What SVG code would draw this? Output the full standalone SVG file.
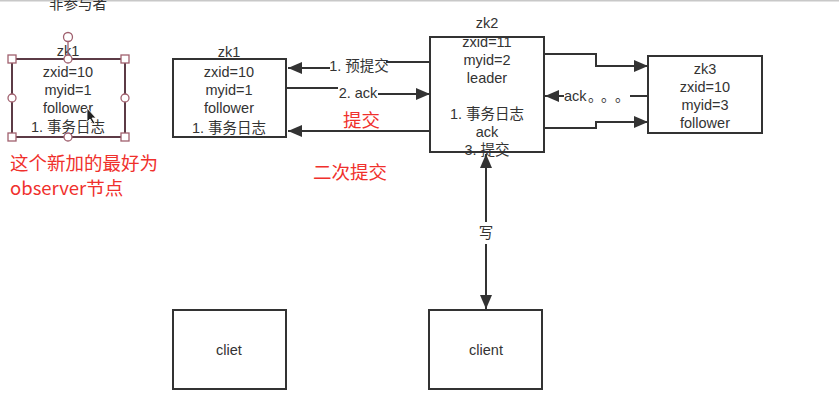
<svg xmlns="http://www.w3.org/2000/svg" width="839" height="405" viewBox="0 0 839 405">
<style>
.t{font-family:"Liberation Sans","Noto Sans CJK SC",sans-serif;font-size:14.5px;fill:#333;text-anchor:middle}
.r{font-family:"Noto Sans CJK SC",sans-serif;font-size:18.5px;fill:#f0302c}
.box{fill:#fff;stroke:#333;stroke-width:2}
.ln{fill:none;stroke:#333;stroke-width:2}
.h{fill:#fff;stroke:#a0606e;stroke-width:1.3}
</style>
<defs>
<marker id="ah" viewBox="0 0 14 12" refX="14" refY="6" markerWidth="14" markerHeight="12" markerUnits="userSpaceOnUse" orient="auto-start-reverse">
<path d="M0,0L14,6L0,12z" fill="#333"/>
</marker>
</defs>
<rect x="0" y="0" width="839" height="405" fill="#fff"/>
<line x1="0" y1="0.5" x2="839" y2="0.5" stroke="#c8c8c8" stroke-width="2"/>
<text class="t" x="78" y="9">非参与者</text>

<g id="connectors">
<path class="ln" d="M430,62H386M330,68H288" marker-end="url(#ah)"/>
<path class="ln" d="M288,68H330"/>
<path class="ln" d="M286,88H338M378,94H430" marker-end="url(#ah)"/>
<path class="ln" d="M430,131H288" marker-end="url(#ah)"/>
<path class="ln" d="M544,54H596V66H648" marker-end="url(#ah)"/>
<path class="ln" d="M544,128H596V122H648" marker-end="url(#ah)"/>
<path class="ln" d="M648,96H630"/>
<path class="ln" d="M564,96H545" marker-end="url(#ah)"/>
<path class="ln" d="M486,222V154" marker-end="url(#ah)"/>
<path class="ln" d="M486,244V309" marker-end="url(#ah)"/>
<text class="t" x="359" y="71">1. 预提交</text>
<text class="t" x="358" y="98">2. ack</text>
<text class="t" x="564" y="101" style="text-anchor:start">ack<tspan x="588 601 615" style="font-family:'Noto Sans CJK SC',sans-serif">。。。</tspan></text>
<text class="t" x="486" y="238">写</text>
</g>

<g id="zk1-selected">
<rect x="12" y="59" width="113" height="78" fill="#fff" stroke="#5c3b46" stroke-width="2"/>
<text class="t" x="68" y="56">zk1</text>
<text class="t" x="68" y="77">zxid=10</text>
<text class="t" x="68" y="95">myid=1</text>
<text class="t" x="68" y="113">follower</text>
<text class="t" x="68" y="132">1. 事务日志</text>
<line x1="68" y1="41" x2="68" y2="59" stroke="#a0606e" stroke-width="1.3"/>
<circle class="h" cx="68" cy="37" r="4.5"/>
<rect class="h" x="8" y="55" width="8" height="8"/>
<rect class="h" x="121" y="55" width="8" height="8"/>
<rect class="h" x="8" y="133" width="8" height="8"/>
<rect class="h" x="121" y="133" width="8" height="8"/>
<circle class="h" cx="68" cy="59" r="4"/>
<circle class="h" cx="68" cy="137" r="4"/>
<circle class="h" cx="12" cy="98" r="4"/>
<circle class="h" cx="125" cy="98" r="4"/>
<path d="M87,108L87,122L90,119L93,124L95,123L92,118L96,118z" fill="#222" stroke="#fff" stroke-width="0.8"/>
</g>

<g id="note">
<text class="r" x="10" y="170">这个新加的最好为</text>
<text class="r" x="10" y="195">observer节点</text>
</g>

<g id="zk1">
<rect class="box" x="173" y="59" width="113" height="78"/>
<text class="t" x="229" y="57">zk1</text>
<text class="t" x="229" y="77">zxid=10</text>
<text class="t" x="229" y="95">myid=1</text>
<text class="t" x="229" y="113">follower</text>
<text class="t" x="229" y="133">1. 事务日志</text>
</g>

<text class="r" x="343" y="127">提交</text>
<text class="r" x="313" y="179">二次提交</text>

<g id="zk2">
<rect class="box" x="430" y="37" width="114" height="115"/>
<text class="t" x="487" y="28">zk2</text>
<text class="t" x="487" y="47">zxid=11</text>
<text class="t" x="487" y="65">myid=2</text>
<text class="t" x="487" y="83">leader</text>
<text class="t" x="487" y="119">1. 事务日志</text>
<text class="t" x="487" y="137">ack</text>
<text class="t" x="487" y="155">3. 提交</text>
</g>

<g id="zk3">
<rect class="box" x="648" y="56" width="114" height="77"/>
<text class="t" x="705" y="74">zk3</text>
<text class="t" x="705" y="92">zxid=10</text>
<text class="t" x="705" y="110">myid=3</text>
<text class="t" x="705" y="128">follower</text>
</g>

<g id="cliet">
<rect class="box" x="173" y="310" width="113" height="79"/>
<text class="t" x="229" y="355">cliet</text>
</g>

<g id="client">
<rect class="box" x="429" y="310" width="113" height="79"/>
<text class="t" x="486" y="355">client</text>
</g>
</svg>
